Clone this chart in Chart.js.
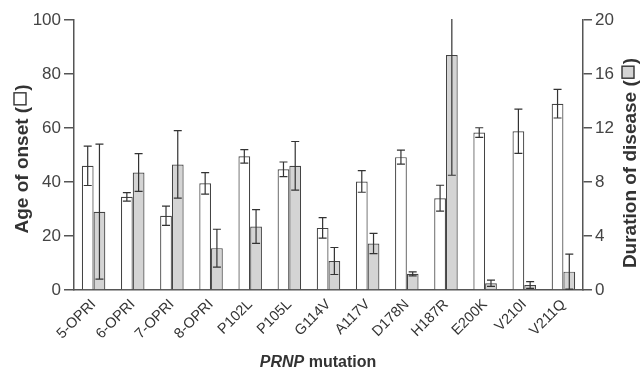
<!DOCTYPE html>
<html>
<head>
<meta charset="utf-8">
<script src="https://cdn.jsdelivr.net/npm/chart.js@4.4.0/dist/chart.umd.min.js"></script>
<style>
  html, body { margin: 0; padding: 0; background: #fff; }
  #wrap { width: 641px; height: 376px; }
</style>
</head>
<body>
<div id="wrap"><canvas id="chart" width="641" height="376"></canvas></div>
<script>
// Data
const mutations = ['5-OPRI', '6-OPRI', '7-OPRI', '8-OPRI', 'P102L', 'P105L', 'G114V',
    'A117V', 'D178N', 'H187R', 'E200K', 'V210I', 'V211Q'];
const onsetAge = [46, 34.5, 27.5, 39.5, 49.5, 44.7, 23, 40.2, 49.2, 34, 58.3, 58.8, 69];
const onsetErr = [7.3, 1.6, 3.6, 4, 2.5, 2.7, 3.8, 4, 2.6, 4.8, 1.8, 8.2, 5.3];
const duration = [5.8, 8.7, 9.3, 3.1, 4.7, 9.2, 2.15, 3.45, 1.2, 17.4, 0.5, 0.37, 1.36];
const durationErr = [5, 1.4, 2.5, 1.4, 1.25, 1.8, 1, 0.75, 0.15, 8.9, 0.23, 0.25, 1.3];
const ageTicks = [0, 20, 40, 60, 80, 100];
const durationTicks = [0, 4, 8, 12, 16, 20];

const FONT = '"Liberation Sans", Arial, Helvetica, sans-serif';
const AXIS = '#555';
const INK = '#333';
const GREY = '#d4d4d4';

/**
 * Draw the error bars on top of both bar series
 */
const errorBars = {
    id: 'errorBars',
    afterDatasetsDraw(chart) {
        const ctx = chart.ctx;
        const area = chart.chartArea;
        const errs = [onsetErr, durationErr];
        ctx.save();
        ctx.beginPath();
        ctx.rect(area.left, area.top - 1, area.right - area.left, area.bottom - area.top + 1);
        ctx.clip();
        ctx.strokeStyle = INK;
        ctx.lineWidth = 1.2;
        chart.data.datasets.forEach((ds, di) => {
            const meta = chart.getDatasetMeta(di);
            const scale = chart.scales[ds.yAxisID];
            meta.data.forEach((bar, i) => {
                const v = ds.data[i];
                const e = errs[di][i];
                const yHi = scale.getPixelForValue(v + e);
                const yLo = scale.getPixelForValue(Math.max(0, v - e));
                const x = bar.x;
                ctx.beginPath();
                ctx.moveTo(x, yHi); ctx.lineTo(x, yLo);
                ctx.moveTo(x - 4, yHi); ctx.lineTo(x + 4, yHi);
                ctx.moveTo(x - 4, yLo); ctx.lineTo(x + 4, yLo);
                ctx.stroke();
            });
        });
        ctx.restore();
    }
};

/**
 * Rotated axis title with a small legend square inside the brackets
 */
function drawVerticalTitle(ctx, cx, cy, text, squareFill) {
    const size = 19;
    const sq = 12;
    ctx.save();
    ctx.translate(cx, cy);
    ctx.rotate(-Math.PI / 2);
    ctx.font = 'bold ' + size + 'px ' + FONT;
    ctx.fillStyle = INK;
    ctx.textBaseline = 'alphabetic';
    const w1 = ctx.measureText(text + ' (').width;
    const w2 = ctx.measureText(')').width;
    const total = w1 + 2 + sq + 2 + w2;
    let x = -total / 2;
    const base = size * 0.36;
    ctx.fillText(text + ' (', x, base);
    x += w1 + 2;
    ctx.fillStyle = squareFill;
    ctx.fillRect(x, -sq / 2 - 1, sq, sq);
    ctx.strokeStyle = INK;
    ctx.lineWidth = 1.4;
    ctx.strokeRect(x, -sq / 2 - 1, sq, sq);
    x += sq + 2;
    ctx.fillStyle = INK;
    ctx.fillText(')', x, base);
    ctx.restore();
}

const axisTitles = {
    id: 'axisTitles',
    afterDraw(chart) {
        const ctx = chart.ctx;
        drawVerticalTitle(ctx, 21, 159, 'Age of onset', '#fff');
        drawVerticalTitle(ctx, 629, 163, 'Duration of disease', GREY);

        // x title: italic gene name followed by plain bold word
        ctx.save();
        ctx.fillStyle = INK;
        ctx.textBaseline = 'alphabetic';
        const a = 'PRNP';
        const b = ' mutation';
        ctx.font = 'italic bold 16px ' + FONT;
        const wa = ctx.measureText(a).width;
        ctx.font = 'bold 16px ' + FONT;
        const wb = ctx.measureText(b).width;
        const x0 = 318 - (wa + wb) / 2;
        ctx.font = 'italic bold 16px ' + FONT;
        ctx.fillText(a, x0, 367);
        ctx.font = 'bold 16px ' + FONT;
        ctx.fillText(b, x0 + wa, 367);
        ctx.restore();
    }
};

new Chart(document.getElementById('chart'), {
    type: 'bar',
    data: {
        labels: mutations,
        datasets: [{
            label: 'Age of onset',
            data: onsetAge,
            yAxisID: 'y',
            backgroundColor: '#fff',
            borderColor: '#444',
            borderWidth: 1.2,
            categoryPercentage: 0.6,
            barPercentage: 1.0
        }, {
            label: 'Duration of disease',
            data: duration,
            yAxisID: 'y1',
            backgroundColor: GREY,
            borderColor: '#444',
            borderWidth: 1.2,
            categoryPercentage: 0.6,
            barPercentage: 1.0
        }]
    },
    options: {
        responsive: false,
        animation: false,
        layout: { padding: { top: 20, left: 0, right: 0, bottom: 0 } },
        plugins: {
            legend: { display: false },
            tooltip: { enabled: false }
        },
        scales: {
            x: {
                grid: { display: false, drawTicks: false },
                border: { display: true, color: AXIS, width: 1.5 },
                ticks: {
                    color: INK,
                    font: { family: FONT, size: 14.5 },
                    minRotation: 45,
                    maxRotation: 45,
                    padding: 6,
                    autoSkip: false
                },
                afterFit(scale) { scale.height = 86; }
            },
            y: {
                position: 'left',
                min: 0,
                max: 100,
                afterBuildTicks(scale) { scale.ticks = ageTicks.map(v => ({ value: v })); },
                grid: { drawOnChartArea: false, color: AXIS, tickLength: 10, lineWidth: 1.5 },
                border: { color: AXIS, width: 1.5 },
                ticks: { color: '#444', font: { family: FONT, size: 17 }, padding: 3 },
                afterFit(scale) { scale.width = 74; }
            },
            y1: {
                position: 'right',
                min: 0,
                max: 20,
                afterBuildTicks(scale) { scale.ticks = durationTicks.map(v => ({ value: v })); },
                grid: { drawOnChartArea: false, color: AXIS, tickLength: 9, lineWidth: 1.5 },
                border: { color: AXIS, width: 1.5 },
                ticks: { color: '#444', font: { family: FONT, size: 17 }, padding: 3 },
                afterFit(scale) { scale.width = 58; }
            }
        }
    },
    plugins: [errorBars, axisTitles]
});
</script>
</body>
</html>
